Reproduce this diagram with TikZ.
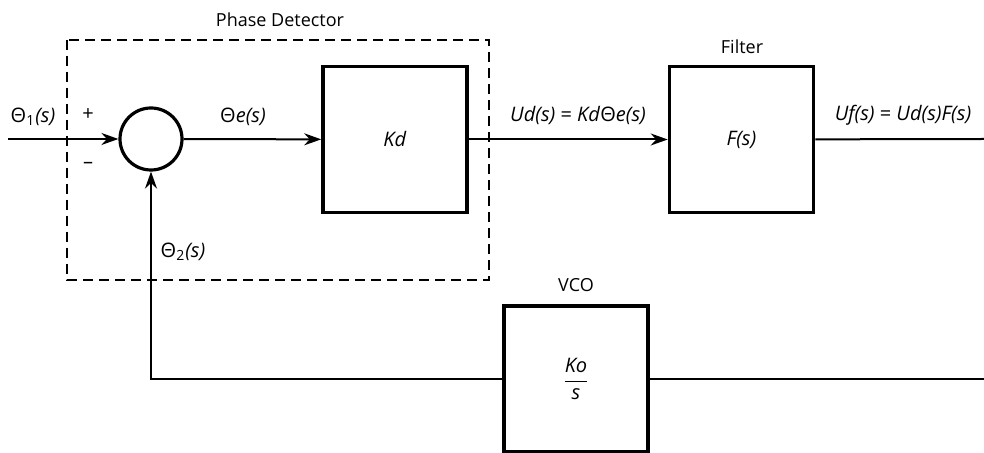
\documentclass[tikz,border=0pt]{standalone}
\usepackage{amsmath}
\usepackage{fontspec}
\setmainfont{Open Sans}
\usetikzlibrary{arrows.meta}

\begin{document}
\begin{tikzpicture}[x=0.5pt, y=-0.5pt,
		block/.style={draw, line width=1.8pt, minimum width=72pt, minimum height=73pt, inner sep=0pt, font=\fontsize{10}{12}\selectfont},
		sumnode/.style={draw, circle, line width=1.6pt, minimum size=31pt, inner sep=0pt},
		link/.style={line width=1pt},
		arr/.style={link, -{Stealth[length=8.5pt, width=6pt]}},
		lbl/.style={font=\fontsize{10}{12}\selectfont, inner sep=0pt},
		title/.style={font=\fontsize{9}{11}\selectfont, inner sep=0pt}]
			\useasboundingbox (0,0) rectangle (984,453);
			% phase detector frame
			\draw[line width=1pt, dash pattern=on 5pt off 3pt] (67,40) rectangle (489,280);
			\node[title] (pdtitle) at (280,20) {Phase Detector};
			% blocks
			\node[sumnode] (sum) at (151,139) {};
			\node[block] (kd) at (395,139.5) {\textit{Kd}};
			\node[block] (filter) at (741.5,139.5) {\textit{F(s)}};
			\node[block] (vco) at (576,379) {$\dfrac{\textit{Ko}}{\textit{s}}$};
			\node[title] (filtertitle) at (742,47) {Filter};
			\node[title] (vcotitle) at (576,285) {VCO};
			% free ends
			\coordinate (in) at (8,139);
			\coordinate (out) at (984,139);
			\coordinate (back) at (984,379);
			\coordinate (corner) at (151,379);
			% connectors
			\draw[arr] (in) -- (sum);
			\draw[arr] (sum) -- (kd);
			\draw[arr] (kd) -- (filter);
			\draw[link] (filter) -- (out);
			\draw[link] (back) -- (vco);
			\draw[arr] (vco) -- (corner) -- (sum);
			% signal labels
			\node[lbl] (theta1) at (33,117) {Θ\textsubscript{1}\textit{(s)}};
			\node[lbl] (plus) at (88,115) {+};
			\node[lbl] (minus) at (88,165) {–};
			\node[lbl] (thetae) at (243,117) {Θ\textit{e(s)}};
			\node[lbl] (ud) at (578,115) {\textit{Ud(s)} = \textit{Kd}Θ\textit{e(s)}};
			\node[lbl] (uf) at (903,115) {\textit{Uf(s)} = \textit{Ud(s)F(s)}};
			\node[lbl] (theta2) at (183,252) {Θ\textsubscript{2}\textit{(s)}};
		\end{tikzpicture}
\end{document}
